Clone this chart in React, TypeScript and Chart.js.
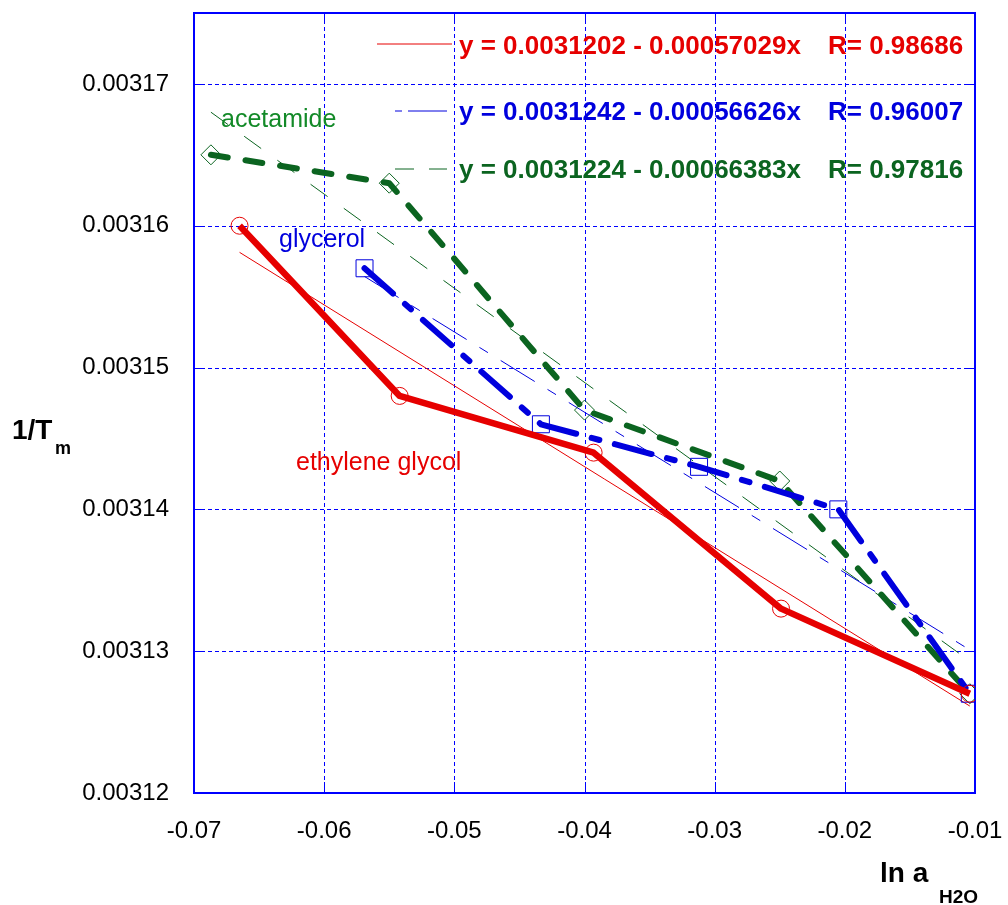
import React, { useEffect, useRef } from "react";
import { Chart, registerables } from "chart.js";

Chart.register(...registerables);

// ln a(H2O) and 1/Tm for each solute
const egX = [-0.0665, -0.0542, -0.0393, -0.0249, -0.0104];
const egY = [0.00316, 0.003148, 0.003144, 0.003133, 0.003127];
const glyX = [-0.0569, -0.04335, -0.0312, -0.0205, -0.0104];
const glyY = [0.003157, 0.003146, 0.003143, 0.00314, 0.003127];
const acX = [-0.0687, -0.055, -0.04, -0.025, -0.0104];
const acY = [0.003165, 0.003163, 0.003147, 0.003142, 0.003127];

// linear fits: y = intercept + slope * x  (ethylene glycol, glycerol, acetamide)
const fitIntercept = [0.0031202, 0.0031242, 0.0031224];
const fitSlope = [-0.00057029, -0.00056626, -0.00066383];
const fitR = [0.98686, 0.96007, 0.97816];

const seriesNames = ["ethylene glycol", "glycerol", "acetamide"];

const xTicks = [-0.07, -0.06, -0.05, -0.04, -0.03, -0.02, -0.01];
const yTicks = [0.00312, 0.00313, 0.00314, 0.00315, 0.00316, 0.00317];

const RED = "#e60000";
const BLUE = "#0000dd";
const GREEN = "#0b6420";
const GREEN_LABEL = "#138a28";
const GRID = "#0000ff";
const FONT = "'Liberation Sans', Arial, Helvetica, sans-serif";

const pts = (xs: number[], ys: number[]) => xs.map((x, i) => ({ x, y: ys[i] }));

const fitLine = (k: number, xs: number[]) => {
  const lo = Math.min(...xs);
  const hi = Math.max(...xs);
  return [lo, hi].map((x) => ({ x, y: fitIntercept[k] + fitSlope[k] * x }));
};

const noScalePadding = (s: any) => {
  s.paddingTop = 0;
  s.paddingBottom = 0;
  s.paddingLeft = 0;
  s.paddingRight = 0;
};

const frame = {
  id: "frame",
  beforeDatasetsDraw(chart: any) {
    const { ctx, chartArea: a, scales } = chart;
    const xs = scales.x;
    const ys = scales.y;
    ctx.save();
    ctx.strokeStyle = GRID;
    ctx.lineWidth = 1;
    ctx.setLineDash([4, 3]);
    xTicks.forEach((v) => {
      const px = Math.round(xs.getPixelForValue(v)) + 0.5;
      ctx.beginPath();
      ctx.moveTo(px, a.top);
      ctx.lineTo(px, a.bottom);
      ctx.stroke();
    });
    yTicks.forEach((v) => {
      const py = Math.round(ys.getPixelForValue(v)) + 0.5;
      ctx.beginPath();
      ctx.moveTo(a.left, py);
      ctx.lineTo(a.right, py);
      ctx.stroke();
    });
    ctx.setLineDash([]);
    // inward tick marks on all four sides
    const t = 11;
    xTicks.forEach((v) => {
      const px = Math.round(xs.getPixelForValue(v)) + 0.5;
      ctx.beginPath();
      ctx.moveTo(px, a.bottom);
      ctx.lineTo(px, a.bottom - t);
      ctx.moveTo(px, a.top);
      ctx.lineTo(px, a.top + t);
      ctx.stroke();
    });
    yTicks.forEach((v) => {
      const py = Math.round(ys.getPixelForValue(v)) + 0.5;
      ctx.beginPath();
      ctx.moveTo(a.left, py);
      ctx.lineTo(a.left + t, py);
      ctx.moveTo(a.right, py);
      ctx.lineTo(a.right - t, py);
      ctx.stroke();
    });
    ctx.lineWidth = 2;
    ctx.strokeRect(a.left, a.top, a.right - a.left, a.bottom - a.top);
    ctx.restore();
  },
  afterDraw(chart: any) {
    const { ctx } = chart;
    ctx.save();
    ctx.textBaseline = "alphabetic";
    ctx.textAlign = "left";

    // fit equations with line samples
    const rows = [
      { y: 45, color: RED, dash: [] as number[] },
      { y: 111, color: BLUE, dash: [7, 6, 40, 0] },
      { y: 169, color: GREEN, dash: [19, 15] },
    ];
    rows.forEach((r, k) => {
      ctx.strokeStyle = r.color;
      ctx.lineWidth = 1;
      ctx.setLineDash(r.dash);
      ctx.beginPath();
      if (k === 0) {
        ctx.moveTo(377, r.y - 1);
        ctx.lineTo(452, r.y - 1);
      } else {
        ctx.moveTo(395, r.y);
        ctx.lineTo(447, r.y);
      }
      ctx.stroke();
      ctx.setLineDash([]);
      ctx.fillStyle = r.color;
      ctx.font = `bold 26px ${FONT}`;
      const eq = `y = ${fitIntercept[k]} - ${Math.abs(fitSlope[k])}x`;
      ctx.fillText(eq, 459, r.y + 9);
      ctx.fillText(`R= ${fitR[k]}`, 828, r.y + 9);
    });

    // series names
    ctx.font = `25px ${FONT}`;
    ctx.fillStyle = GREEN_LABEL;
    ctx.fillText(seriesNames[2], 221, 127);
    ctx.fillStyle = BLUE;
    ctx.fillText(seriesNames[1], 279, 247);
    ctx.fillStyle = RED;
    ctx.fillText(seriesNames[0], 296, 470);

    // axis titles
    ctx.fillStyle = "#000";
    ctx.font = `bold 28px ${FONT}`;
    ctx.fillText("1/T", 12, 439);
    ctx.font = `bold 18px ${FONT}`;
    ctx.fillText("m", 55, 454);
    ctx.font = `bold 28px ${FONT}`;
    ctx.fillText("ln a", 880, 882);
    ctx.font = `bold 19px ${FONT}`;
    ctx.fillText("H2O", 939, 903);
    ctx.restore();
  },
};

export default function App() {
  const ref = useRef<HTMLCanvasElement | null>(null);

  useEffect(() => {
    if (!ref.current) return;
    const chart = new Chart(ref.current, {
      type: "scatter",
      data: {
        datasets: [
          {
            data: pts(egX, egY),
            showLine: true,
            borderColor: RED,
            borderWidth: 6.5,
            borderJoinStyle: "round",
            pointStyle: "circle",
            pointRadius: 8.5,
            pointBorderWidth: 1,
            pointBorderColor: RED,
            pointBackgroundColor: "transparent",
          },
          {
            data: pts(glyX, glyY),
            showLine: true,
            borderColor: BLUE,
            borderWidth: 6,
            borderDash: [38, 16, 8, 16],
            borderCapStyle: "round",
            borderJoinStyle: "round",
            pointStyle: "rect",
            pointRadius: 12,
            pointBorderWidth: 1,
            pointBorderColor: BLUE,
            pointBackgroundColor: "transparent",
          },
          {
            data: pts(acX, acY),
            showLine: true,
            borderColor: GREEN,
            borderWidth: 6,
            borderDash: [17, 18],
            borderCapStyle: "round",
            borderJoinStyle: "round",
            pointStyle: "rectRot",
            pointRadius: 10,
            pointBorderWidth: 1,
            pointBorderColor: GREEN,
            pointBackgroundColor: "transparent",
          },
          {
            data: fitLine(0, egX),
            showLine: true,
            borderColor: RED,
            borderWidth: 1,
            pointRadius: 0,
          },
          {
            data: fitLine(1, glyX),
            showLine: true,
            borderColor: BLUE,
            borderWidth: 1,
            borderDash: [40, 15, 10, 15],
            pointRadius: 0,
          },
          {
            data: fitLine(2, acX),
            showLine: true,
            borderColor: GREEN,
            borderWidth: 1,
            borderDash: [21, 20],
            pointRadius: 0,
          },
        ],
      },
      options: {
        responsive: false,
        animation: false,
        events: [],
        layout: { padding: { left: 0, top: 11, right: 33, bottom: 0 } },
        plugins: { legend: { display: false }, tooltip: { enabled: false } },
        scales: {
          x: {
            type: "linear",
            min: -0.07,
            max: -0.01,
            grid: { display: false },
            border: { display: false },
            afterBuildTicks: (s: any) => {
              s.ticks = xTicks.map((value) => ({ value }));
            },
            afterFit: (s: any) => {
              s.height = 112;
              noScalePadding(s);
            },
            ticks: {
              autoSkip: false,
              maxRotation: 0,
              padding: 16,
              color: "#000",
              font: { family: FONT, size: 24 },
              callback: (v: any) => Number(v).toFixed(2),
            },
          },
          y: {
            type: "linear",
            min: 0.00312,
            max: 0.003175,
            grid: { display: false },
            border: { display: false },
            afterBuildTicks: (s: any) => {
              s.ticks = yTicks.map((value) => ({ value }));
            },
            afterFit: (s: any) => {
              s.width = 194;
              noScalePadding(s);
            },
            ticks: {
              autoSkip: false,
              padding: 17,
              color: "#000",
              font: { family: FONT, size: 24 },
              callback: (v: any) => Number(v).toFixed(5),
            },
          },
        },
      },
      plugins: [frame],
    } as any);
    return () => chart.destroy();
  }, []);

  return (
    <div style={{ position: "absolute", left: 0, top: 0, width: 1008, height: 905, background: "#fff" }}>
      <canvas ref={ref} width={1008} height={905} />
    </div>
  );
}
